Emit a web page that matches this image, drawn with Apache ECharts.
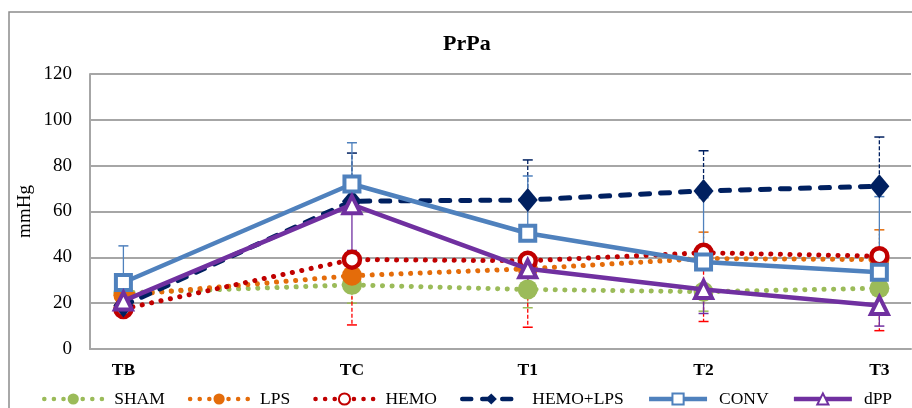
<!DOCTYPE html>
<html>
<head>
<meta charset="utf-8">
<script src="https://cdn.jsdelivr.net/npm/echarts@6/dist/echarts.min.js"></script>
<style>
  html, body { margin: 0; padding: 0; background: #fff; }
  #chart { width: 912px; height: 408px; }
</style>
</head>
<body>
<div id="chart"></div>
<script>
// time points (uneven spacing on the x axis, like the original)
var categories = ['TB', 'TC', 'T1', 'T2', 'T3'];
var timePos = [0, 1.3, 2.3, 3.3, 4.3];

// means, mmHg
var sham    = [24.5, 28, 26, 25, 26.5];
var lps     = [23.5, 32, 35, 39.5, 39];
var hemo    = [17.5, 39, 38.5, 42, 40.5];
var hemoLps = [19, 64.5, 65, 69, 71];
var conv    = [29, 72, 50.5, 38, 33.5];
var dpp     = [21, 63, 35, 26, 19];

// one-sided error bars (SD)
var shamErr    = [0, 8, 8, 8.5, 0];      // down
var lpsErr     = [0, 0, 0, 11.5, 13];    // up
var hemoErr    = [0, 28.5, 29, 30, 32.5];// down
var hemoLpsErr = [0, 21, 17.5, 17.5, 21.5]; // up
var convErr    = [16, 18, 25, 28, 33];   // up
var dppErr     = [0, 20, 11, 10.5, 9];   // down

var serif = 'Liberation Serif';

function pairs(vals) {
  return vals.map(function (v, i) { return [timePos[i], v]; });
}
function errPairs(vals, errs) {
  return vals.map(function (v, i) { return [timePos[i], v, errs[i]]; });
}

function errSeries(name, vals, errs, dir, color, dash) {
  return {
    name: name + ' err',
    type: 'custom',
    z: 1,
    silent: true,
    data: errPairs(vals, errs),
    renderItem: function (params, api) {
      var e = api.value(2);
      if (!e) return null;
      var x = api.value(0), y = api.value(1);
      var p0 = api.coord([x, y]);
      var p1 = api.coord([x, y + dir * e]);
      var st = { stroke: color, lineWidth: 1.3, lineDash: dash };
      return {
        type: 'group',
        children: [
          { type: 'line', shape: { x1: p0[0], y1: p0[1], x2: p1[0], y2: p1[1] }, style: st },
          { type: 'line', shape: { x1: p1[0] - 5, y1: p1[1], x2: p1[0] + 5, y2: p1[1] }, style: { stroke: color, lineWidth: 1.5 } }
        ]
      };
    }
  };
}

var dots = [0.1, 9.5];

var chart = echarts.init(document.getElementById('chart'));
chart.setOption({
  animation: false,
  textStyle: { fontFamily: serif },
  graphic: [{
    type: 'rect',
    shape: { x: 9, y: 12, width: 930, height: 420 },
    style: { fill: 'none', stroke: '#8c8c8c', lineWidth: 1.5 },
    silent: true
  }],
  title: {
    text: 'PrPa',
    left: 438,
    top: 28,
    textStyle: { fontFamily: serif, fontWeight: 'bold', fontSize: 22, color: '#000' }
  },
  grid: { left: 90, right: 1, top: 74, bottom: 59 },
  legend: {
    data: ['SHAM', 'LPS', 'HEMO', 'HEMO+LPS', 'CONV', 'dPP'],
    left: 42,
    top: 390,
    width: 868,
    padding: 0,
    itemWidth: 58,
    itemHeight: 14,
    itemGap: 23,
    lineStyle: { width: 4.5 },
    textStyle: { fontFamily: serif, fontSize: 17.5, color: '#000', padding: [0, 0, 0, 7] }
  },
  xAxis: {
    type: 'value',
    min: -0.19,
    max: 4.48,
    splitLine: { show: false },
    axisTick: { show: false },
    axisLine: { show: true, onZero: false, lineStyle: { color: '#a6a6a6', width: 2 } },
    axisLabel: {
      customValues: timePos,
      margin: 12,
      fontFamily: serif,
      fontWeight: 'bold',
      fontSize: 17.5,
      color: '#000',
      formatter: function (v) {
        var i = timePos.indexOf(v);
        return i >= 0 ? categories[i] : '';
      }
    }
  },
  yAxis: {
    type: 'value',
    min: 0,
    max: 120,
    interval: 20,
    name: 'mmHg',
    nameLocation: 'middle',
    nameGap: 55,
    nameMoveOverlap: false,
    nameTextStyle: { fontFamily: serif, fontSize: 19, color: '#000' },
    axisLine: { show: true, onZero: false, lineStyle: { color: '#a6a6a6', width: 2 } },
    axisTick: { show: false },
    splitLine: { lineStyle: { color: '#a6a6a6', width: 2 } },
    axisLabel: { fontFamily: serif, fontSize: 19, color: '#000', margin: 18 }
  },
  series: [
    errSeries('SHAM', sham, shamErr, -1, '#9BBB59', [2, 2]),
    errSeries('LPS', lps, lpsErr, 1, '#E46C0A', [2, 2]),
    errSeries('HEMO', hemo, hemoErr, -1, '#FF0000', [4, 2]),
    errSeries('HEMO+LPS', hemoLps, hemoLpsErr, 1, '#002060', [4, 2]),
    errSeries('CONV', conv, convErr, 1, '#4F81BD', null),
    errSeries('dPP', dpp, dppErr, -1, '#7030A0', null),
    {
      name: 'SHAM', type: 'line', z: 2, data: pairs(sham),
      symbol: 'circle', symbolSize: 20,
      itemStyle: { color: '#9BBB59' },
      lineStyle: { color: '#9BBB59', width: 5, type: dots, cap: 'round' }
    },
    {
      name: 'LPS', type: 'line', z: 3, data: pairs(lps),
      symbol: 'circle', symbolSize: 20,
      itemStyle: { color: '#E46C0A' },
      lineStyle: { color: '#E46C0A', width: 5, type: dots, cap: 'round' }
    },
    {
      name: 'HEMO', type: 'line', z: 4, data: pairs(hemo),
      symbol: 'circle', symbolSize: 16,
      itemStyle: { color: '#fff', borderColor: '#C00000', borderWidth: 4.5 },
      lineStyle: { color: '#C00000', width: 5, type: dots, cap: 'round' }
    },
    {
      name: 'HEMO+LPS', type: 'line', z: 5, data: pairs(hemoLps),
      symbol: 'diamond', symbolSize: [20, 24],
      itemStyle: { color: '#002060' },
      lineStyle: { color: '#002060', width: 5, type: [9, 11], cap: 'round' }
    },
    {
      name: 'CONV', type: 'line', z: 6, data: pairs(conv),
      symbol: 'rect', symbolSize: 15,
      itemStyle: { color: '#fff', borderColor: '#4F81BD', borderWidth: 4 },
      lineStyle: { color: '#4F81BD', width: 4.5 }
    },
    {
      name: 'dPP', type: 'line', z: 7, data: pairs(dpp),
      symbol: 'triangle', symbolSize: 17,
      itemStyle: { color: '#fff', borderColor: '#7030A0', borderWidth: 4 },
      lineStyle: { color: '#7030A0', width: 4.5 }
    }
  ]
});
</script>
</body>
</html>
